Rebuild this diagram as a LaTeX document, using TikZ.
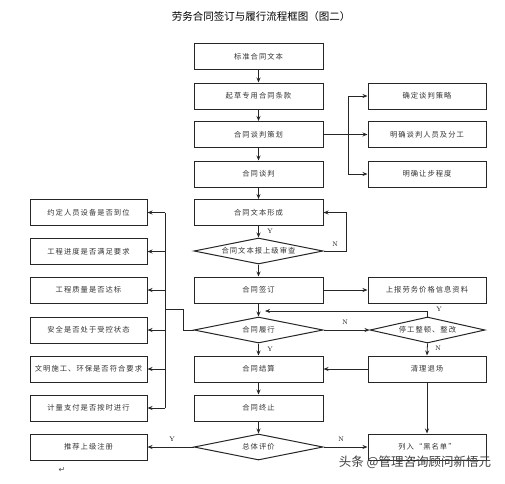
\documentclass[tikz,border=0pt]{standalone}
\usepackage{fontspec}
\usetikzlibrary{shapes.geometric,arrows.meta}
\newfontfamily\cjk{Noto Sans CJK SC}
\newfontfamily\cjksp[LetterSpace=14]{Noto Sans CJK SC}
\newfontfamily\dejavu{DejaVu Sans}
\begin{document}
\begin{tikzpicture}[x=1pt,y=-1pt,
  line/.style={draw=black!85,line width=0.8pt},
  arr/.style={line,-{Stealth[length=5pt,width=4pt]}},
  cbox/.style={draw=black!85,line width=1pt,minimum width=129pt,minimum height=26pt,inner sep=0pt,text=black!80,font=\cjksp\fontsize{7.3}{8}\selectfont},
  rbox/.style={cbox,minimum width=118pt},
  lbox/.style={cbox,minimum width=117pt},
  dia/.style={diamond,aspect=5,draw=black!85,line width=1pt,minimum width=129pt,minimum height=26pt,inner sep=0pt,text=black!80,font=\cjksp\fontsize{7.3}{8}\selectfont},
  rdia/.style={dia,minimum width=115pt},
  yn/.style={font=\fontsize{6.5}{7}\selectfont,inner sep=0pt}]
\useasboundingbox (0,0) rectangle (505,483);
\fill[white] (0,0) rectangle (505,483);
\node[font=\cjk\fontsize{10.5}{12}\selectfont] (title) at (261,17) {劳务合同签订与履行流程框图（图二）};
% centre column
\node[cbox] (c1) at (258.5,56.5) {标准合同文本};
\node[cbox] (c2) at (258.5,96) {起草专用合同条款};
\node[cbox] (c3) at (258.5,134.5) {合同谈判策划};
\node[cbox] (c4) at (258.5,174) {合同谈判};
\node[cbox] (c5) at (258.5,212.5) {合同文本形成};
\node[dia] (d1) at (258.5,251) {合同文本报上级审查};
\node[cbox] (c6) at (258.5,290) {合同签订};
\node[dia] (d2) at (258.5,330) {合同履行};
\node[cbox] (c7) at (258.5,369) {合同结算};
\node[cbox] (c8) at (258.5,408) {合同终止};
\node[dia] (d3) at (258.5,447) {总体评价};
% right column
\node[rbox] (r1) at (427,96) {确定谈判策略};
\node[rbox] (r2) at (427,134.5) {明确谈判人员及分工};
\node[rbox] (r3) at (427,174) {明确让步程度};
\node[rbox] (r4) at (427,290) {上报劳务价格信息资料};
\node[rdia] (r5) at (427.5,330) {停工整顿、整改};
\node[rbox] (r6) at (427,369) {清理退场};
\node[rbox] (r7) at (427,447) {列入“黑名单”};
% left column
\node[lbox] (l1) at (88.5,212.5) {约定人员设备是否到位};
\node[lbox] (l2) at (88.5,251.5) {工程进度是否满足要求};
\node[lbox] (l3) at (88.5,290) {工程质量是否达标};
\node[lbox] (l4) at (88.5,330) {安全是否处于受控状态};
\node[lbox] (l5) at (88.5,369) {文明施工、环保是否符合要求};
\node[lbox] (l6) at (88.5,408) {计量支付是否按时进行};
\node[lbox] (l7) at (88.5,447) {推荐上级注册};
% centre flow
\draw[arr] (c1) -- (c2);
\draw[arr] (c2) -- (c3);
\draw[arr] (c3) -- (c4);
\draw[arr] (c4) -- (c5);
\draw[arr] (c5) -- (d1);
\draw[arr] (d1) -- (c6);
\draw[arr] (c6) -- (d2);
\draw[arr] (d2) -- (c7);
\draw[arr] (c7) -- (c8);
\draw[arr] (c8) -- (d3);
\node[yn] (y1) at (270,231) {Y};
\node[yn] (y2) at (270,349) {Y};
% negotiation branch
\coordinate (jr) at (348,134.5);
\draw[line] (c3.east) -- (jr);
\draw[arr] (jr) -- (r2.west);
\draw[arr] (jr) |- (r1.west);
\draw[arr] (jr) |- (r3.west);
% review loop
\draw[arr] (d1.east) -- ++(23,0) |- (c5.east);
\node[yn] (n1) at (335,244) {N};
% signing
\draw[arr] (c6.east) -- (r4.west);
% performance
\draw[arr] (d2.east) -- (r5.west);
\node[yn] (n2) at (345,322) {N};
\coordinate (rt) at (265,311);
\draw[arr] (r5.north) |- (rt);
\node[yn] (y3) at (439,309) {Y};
\draw[arr] (r5.south) -- (r6.north);
\node[yn] (n3) at (438,348) {N};
\draw[arr] (r6.west) -- (c7.east);
\draw[arr] (r6.south) -- (r7.north);
% evaluation
\draw[arr] (d3.west) -- (l7.east);
\node[yn] (y4) at (172,439) {Y};
\draw[arr] (d3.east) -- (r7.west);
\node[yn] (n4) at (341,439) {N};
% inspection bus
\coordinate (bus) at (165,0);
\draw[line] (d2.west) -- (183,330) -- (183,309) -- (165,309);
\draw[line] (bus |- l1.east) -- (bus |- l6.east);
\draw[arr] (bus |- l1.east) -- (l1.east);
\draw[arr] (bus |- l2.east) -- (l2.east);
\draw[arr] (bus |- l3.east) -- (l3.east);
\draw[arr] (bus |- l4.east) -- (l4.east);
\draw[arr] (bus |- l5.east) -- (l5.east);
\draw[arr] (bus |- l6.east) -- (l6.east);
% marks
\node[font=\dejavu\fontsize{8}{9}\selectfont,text=black!70] (ret) at (62,470) {↵};
\node[font=\cjk\fontsize{12.5}{14}\selectfont,text=black!75] (wm) at (415,462) {头条 @管理咨询顾问新悟元};
\end{tikzpicture}
\end{document}
